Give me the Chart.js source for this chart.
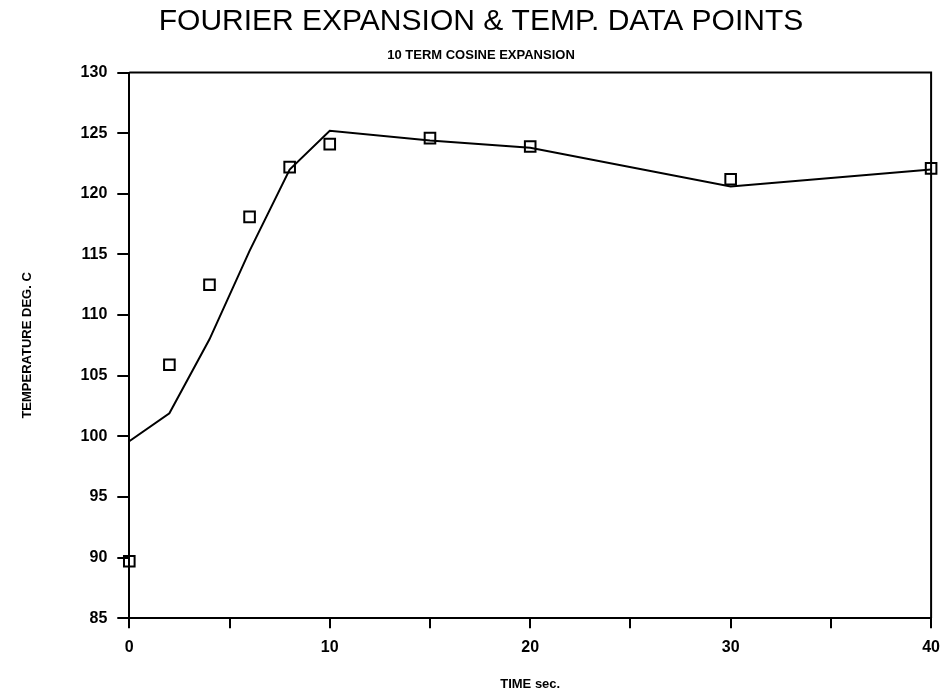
<!DOCTYPE html>
<html>
<head>
<meta charset="utf-8">
<script src="https://cdn.jsdelivr.net/npm/chart.js@4.4.1/dist/chart.umd.min.js"></script>
<style>
  html, body { margin: 0; padding: 0; background: #fff; }
  #wrap { width: 950px; height: 696px; }
</style>
</head>
<body>
<div id="wrap"><canvas id="fourierChart"></canvas></div>
<script>
// time in seconds
const timeSec = [0, 2, 4, 6, 8, 10, 15, 20, 30, 40];
// measured temperatures (squares)
const measuredTemp = [89.7, 105.9, 112.5, 118.1, 122.2, 124.1, 124.6, 123.9, 121.2, 122.1];
// 10 term cosine expansion (line)
const fourierTemp = [99.6, 101.9, 108.0, 115.3, 122.0, 125.2, 124.4, 123.8, 120.6, 122.0];
const yTicks = [85, 90, 95, 100, 105, 110, 115, 120, 125, 130];
const xTickLabels = [0, 10, 20, 30, 40];

const toXY = (ys) => timeSec.map((t, i) => ({ x: t, y: ys[i] }));

// closes the box on the top and right side
const framePlugin = {
    id: 'frame',
    afterDatasetsDraw(chart) {
        const { ctx, chartArea: a } = chart;
        ctx.save();
        ctx.strokeStyle = '#000';
        ctx.lineWidth = 2;
        ctx.beginPath();
        ctx.moveTo(a.left, a.top);
        ctx.lineTo(a.right, a.top);
        ctx.lineTo(a.right, a.bottom);
        ctx.stroke();
        ctx.restore();
    }
};

const ctx = document.getElementById('fourierChart').getContext('2d');
new Chart(ctx, {
    type: 'scatter',
    data: {
        datasets: [{
            label: 'Fourier',
            data: toXY(fourierTemp),
            showLine: true,
            borderColor: '#000',
            borderWidth: 2,
            pointRadius: 0,
            tension: 0
        }, {
            label: 'Data',
            data: toXY(measuredTemp),
            showLine: false,
            pointStyle: 'rect',
            pointRadius: 7.5,
            pointBorderWidth: 2,
            pointBorderColor: '#000',
            pointBackgroundColor: 'rgba(0,0,0,0)',
            clip: false
        }]
    },
    options: {
        responsive: true,
        maintainAspectRatio: false,
        animation: false,
        layout: { padding: { left: 20, right: 8, top: 2, bottom: 4 } },
        plugins: {
            legend: { display: false },
            tooltip: { enabled: false },
            title: {
                display: true,
                text: 'FOURIER EXPANSION & TEMP. DATA POINTS',
                color: '#000',
                font: { family: 'Liberation Sans', size: 30, weight: 'normal' },
                padding: { top: 2, bottom: 8 }
            },
            subtitle: {
                display: true,
                text: '10 TERM COSINE EXPANSION',
                color: '#000',
                font: { family: 'Liberation Sans', size: 13, weight: 'bold' },
                padding: { top: 0, bottom: 9 }
            }
        },
        scales: {
            x: {
                type: 'linear',
                min: 0,
                max: 40,
                border: { display: true, color: '#000', width: 2 },
                grid: { drawOnChartArea: false, drawTicks: true, tickLength: 10, color: '#000', lineWidth: 2 },
                ticks: {
                    stepSize: 5,
                    color: '#000',
                    padding: 10,
                    maxRotation: 0,
                    font: { family: 'Liberation Sans', size: 16, weight: 'bold' },
                    callback: (v) => xTickLabels.includes(v) ? String(v) : ''
                },
                title: {
                    display: true,
                    text: 'TIME sec.',
                    color: '#000',
                    font: { family: 'Liberation Sans', size: 13, weight: 'bold' },
                    padding: { top: 9, bottom: 0 }
                }
            },
            y: {
                min: 85,
                max: 130,
                border: { display: true, color: '#000', width: 2 },
                grid: { drawOnChartArea: false, drawTicks: true, tickLength: 12, color: '#000', lineWidth: 2 },
                afterBuildTicks: (scale) => { scale.ticks = yTicks.map(v => ({ value: v })); },
                ticks: {
                    color: '#000',
                    padding: 10,
                    font: { family: 'Liberation Sans', size: 16, weight: 'bold' }
                },
                title: {
                    display: true,
                    text: 'TEMPERATURE DEG. C',
                    color: '#000',
                    font: { family: 'Liberation Sans', size: 13, weight: 'bold' },
                    padding: { top: 0, bottom: 35 }
                }
            }
        }
    },
    plugins: [framePlugin]
});
</script>
</body>
</html>
